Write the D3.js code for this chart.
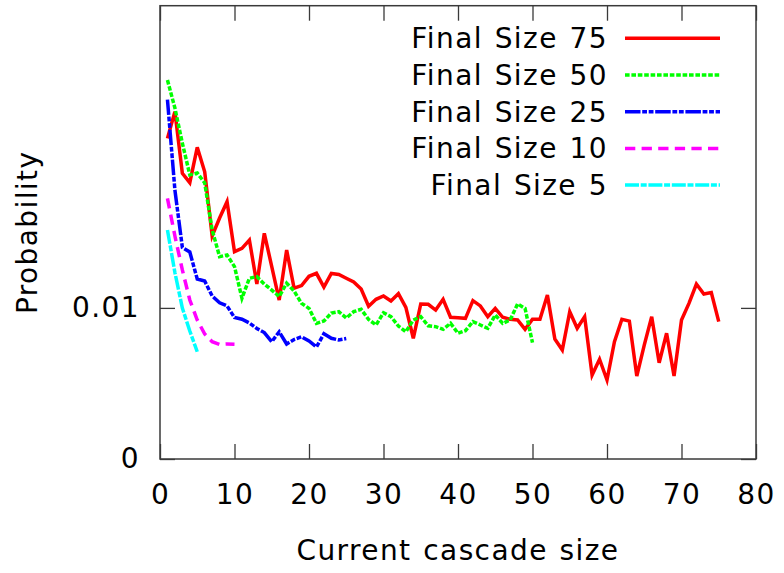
<!DOCTYPE html>
<html>
<head>
<meta charset="utf-8">
<script src="https://cdn.jsdelivr.net/npm/d3@7"></script>
<style>
  html, body { margin: 0; padding: 0; background: #fff; }
  svg { display: block; }
  text { font-family: "DejaVu Sans", sans-serif; fill: #000; letter-spacing: 1.4px; word-spacing: 1.5px; }
</style>
</head>
<body>
<svg id="chart" width="784" height="573"></svg>
<script>
// Probability of each current cascade size, one series per final cascade size
const final75 = [
  0.02122, 0.02299, 0.01891, 0.01829, 0.02063, 0.01901, 0.01476, 0.01595, 0.01703, 0.01372,
  0.01394, 0.01449, 0.01158, 0.01494, 0.01273, 0.01052, 0.01383, 0.01130, 0.01148, 0.01209,
  0.01229, 0.01138, 0.01228, 0.01221, 0.01196, 0.01171, 0.01125, 0.01011, 0.01057, 0.01079,
  0.01046, 0.01094, 0.01003, 0.00799, 0.01026, 0.01024, 0.00986, 0.01057, 0.00938, 0.00935,
  0.00931, 0.01048, 0.01013, 0.00942, 0.00997, 0.00938, 0.00925, 0.00920, 0.00858, 0.00925,
  0.00925, 0.01085, 0.00794, 0.00721, 0.00975, 0.00865, 0.00942, 0.00556, 0.00660, 0.00523,
  0.00776, 0.00925, 0.00913, 0.00549, 0.00754, 0.00942, 0.00637, 0.00832, 0.00549, 0.00920,
  0.01030, 0.01158, 0.01092, 0.01101, 0.00909
];
const final50 = [
  0.02508, 0.02323, 0.02091, 0.01880, 0.01893, 0.01827, 0.01516, 0.01339, 0.01350, 0.01273,
  0.01064, 0.01196, 0.01207, 0.01158, 0.01118, 0.01075, 0.01163, 0.01112, 0.01030, 0.00997,
  0.00898, 0.00913, 0.00966, 0.00975, 0.00933, 0.00975, 0.00991, 0.00923, 0.00887, 0.00968,
  0.00942, 0.00880, 0.00842, 0.00920, 0.00942, 0.00882, 0.00876, 0.00858, 0.00898, 0.00832,
  0.00849, 0.00909, 0.00887, 0.00865, 0.00953, 0.00898, 0.00920, 0.01026, 0.00997, 0.00770
];
const final25 = [
  0.02379, 0.01780, 0.01400, 0.01370, 0.01191, 0.01178, 0.01079, 0.01034, 0.01013, 0.00936,
  0.00925, 0.00900, 0.00864, 0.00837, 0.00776, 0.00842, 0.00761, 0.00791, 0.00809, 0.00781,
  0.00741, 0.00829, 0.00799, 0.00788, 0.00797
];
const final10 = [
  0.01725, 0.01476, 0.01251, 0.01052, 0.00920, 0.00827, 0.00776, 0.00758, 0.00761, 0.00759
];
const final5 = [0.01516, 0.01234, 0.00999, 0.00847, 0.00710];

const seriesNames = ["Final Size 75", "Final Size 50", "Final Size 25", "Final Size 10", "Final Size 5"];
const seriesValues = [final75, final50, final25, final10, final5];
const seriesColors = ["#ff0000", "#00ff00", "#0000ff", "#ff00ff", "#00ffff"];
const seriesDashes = [null, "4.6,1.8", "15.5,1.7,4.8,1.7,4.8,1.7", "10.3,6.3", "14,1.7,6,1.7"];

const xTicks = [0, 10, 20, 30, 40, 50, 60, 70, 80];
const yTicks = [0, 0.01];
const yTickLabels = ["0", "0.01"];

const svg = d3.select("#chart");
const plotLeft = 160, plotRight = 756, plotTop = 5.7, plotBottom = 459;

const x = d3.scaleLinear().domain([0, 80]).range([plotLeft, plotRight]);
const y = d3.scaleLinear().domain([0, 0.03]).range([plotBottom, plotTop]);

const fontSize = 28;
const axisColor = "#3a3a3a";

function styleAxis(g) {
  g.select(".domain").remove();
  g.selectAll(".tick line").attr("stroke", axisColor).attr("stroke-width", 1.3);
  g.selectAll(".tick text")
    .attr("font-family", "'DejaVu Sans', sans-serif")
    .attr("font-size", fontSize)
    .attr("fill", "#000");
}

// bottom axis with inward ticks
svg.append("g")
  .attr("transform", `translate(0,${plotBottom})`)
  .call(d3.axisBottom(x).tickValues(xTicks).tickSize(-15).tickPadding(25).tickFormat(d3.format("d")))
  .call(styleAxis);

// mirrored top ticks
svg.append("g")
  .attr("transform", `translate(0,${plotTop})`)
  .call(d3.axisTop(x).tickValues(xTicks).tickSize(-15).tickFormat(""))
  .call(styleAxis);

// left axis
svg.append("g")
  .attr("transform", `translate(${plotLeft},0)`)
  .call(d3.axisLeft(y).tickValues(yTicks).tickSize(-15).tickPadding(20)
    .tickFormat((d, i) => yTickLabels[i]))
  .call(styleAxis);

// mirrored right ticks
svg.append("g")
  .attr("transform", `translate(${plotRight},0)`)
  .call(d3.axisRight(y).tickValues(yTicks).tickSize(-15).tickFormat(""))
  .call(styleAxis);

// plot frame
svg.append("rect")
  .attr("x", plotLeft).attr("y", plotTop)
  .attr("width", plotRight - plotLeft).attr("height", plotBottom - plotTop)
  .attr("fill", "none").attr("stroke", axisColor).attr("stroke-width", 1.5);

// axis titles
svg.append("text")
  .attr("x", (plotLeft + plotRight) / 2).attr("y", 560)
  .attr("text-anchor", "middle")
  .attr("font-size", fontSize)
  .text("Current cascade size");

svg.append("text")
  .attr("transform", `translate(37,${(plotTop + plotBottom) / 2}) rotate(-90)`)
  .attr("text-anchor", "middle")
  .attr("font-size", fontSize)
  .text("Probability");

// series lines
const line = d3.line()
  .x((d, i) => x(i + 1))
  .y(d => y(d));

seriesValues.forEach((vals, k) => {
  svg.append("path")
    .datum(vals)
    .attr("d", line)
    .attr("fill", "none")
    .attr("stroke", seriesColors[k])
    .attr("stroke-width", 3.5)
    .attr("stroke-linejoin", "miter")
    .attr("stroke-dasharray", seriesDashes[k]);
});

// legend
const legendTextX = 608, legendLineX0 = 625, legendLineX1 = 720;
const legendY0 = 38.3, legendStep = 36.7;
const legend = svg.append("g");
seriesNames.forEach((name, k) => {
  const ly = legendY0 + k * legendStep;
  legend.append("text")
    .attr("x", legendTextX).attr("y", ly)
    .attr("dy", "0.36em")
    .attr("text-anchor", "end")
    .attr("font-size", fontSize)
    .text(name);
  legend.append("line")
    .attr("x1", legendLineX0).attr("x2", legendLineX1)
    .attr("y1", ly).attr("y2", ly)
    .attr("stroke", seriesColors[k])
    .attr("stroke-width", 3.5)
    .attr("stroke-dasharray", seriesDashes[k]);
});
</script>
</body>
</html>
